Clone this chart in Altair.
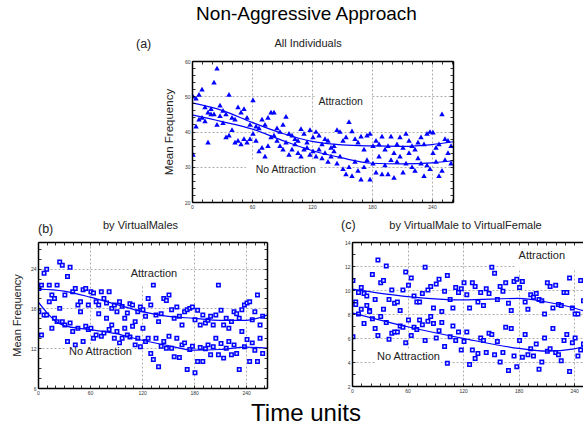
import altair as alt
import pandas as pd

FONT = "Liberation Sans"
BLUE = "#0000ff"
TXT = "#222222"

# time units at which the mean frequencies are plotted (every 3 units)
time_steps = list(range(1, 261, 3))

# ---------------- (a) All Individuals ----------------
a_attr = [50, 49.5, 50.5, 52, 47, 45.5, 46.5, 54, 58, 47.5,
          46, 45, 50.5, 44, 43.5, 47, 45.5, 46.5, 44, 42,
          49, 41.5, 41, 43.5, 42, 44, 45.5, 45.5, 41, 40,
          42, 44.3, 39.5, 39, 38, 37.5, 40.8, 39.5, 37, 40.5,
          38.5, 40, 39, 36.5, 38, 37.5, 35.5, 36, 40.5, 40,
          37.5, 38.5, 42.8, 40.2, 38, 37, 38.7, 35, 39, 39.5,
          36, 37.5, 36.5, 38.7, 35, 36, 38.7, 34, 36.5, 38.5,
          35.5, 39.5, 37.5, 36, 35, 37, 38.5, 36.5, 39.5, 40,
          39.8, 35.5, 36.5, 45, 38, 37.5, 36]
a_noattr = [33.5, 41.5, 43.5, 44, 43, 37, 45, 45, 42, 44.5,
            42.5, 38.5, 39, 40.5, 37, 37.5, 36.5, 38, 37, 38,
            39.5, 37.5, 34.5, 35.5, 33, 36, 38.5, 39, 37.5, 36,
            35, 37, 33.5, 35, 36.5, 34, 33, 35, 35.5, 33.5,
            34.5, 33, 35, 32.5, 34, 31.5, 33, 34.5, 31, 33,
            29.5, 28, 30, 27.5, 31.5, 29, 26.5, 30, 32, 26.5,
            31, 28.5, 33, 28, 30.5, 28, 32, 27, 31.5, 33,
            28.5, 31, 34, 30, 29, 32.5, 31, 27.5, 30.5, 29.5,
            34, 31.5, 27.5, 29, 32, 34, 31]
a_fit_t = [0, 30, 60, 90, 120, 150, 180, 210, 240, 261]
a_fit_attr = [48.1, 46.0, 42.6, 39.5, 37.2, 36.2, 35.9, 35.8, 36.3, 37.1]
a_fit_noattr = [44.7, 42.8, 40.7, 37.5, 34.6, 32.5, 31.0, 30.8, 31.1, 31.7]

# ---------------- (b) by VirtualMales ----------------
b_attr = [21, 21.5, 23.3, 23.9, 21.5, 20, 19.5, 21.5, 25, 24.5,
          20, 22.8, 24.2, 20.5, 21, 18.5, 19, 20.8, 21, 18.5,
          20.5, 20.3, 19, 18.5, 20.5, 19.5, 18.8, 20.5, 18, 18.5,
          17.5, 19, 18.3, 16.5, 17.3, 18.7, 18.5, 16, 17.5, 18.2,
          17.8, 16.8, 19.5, 18.5, 21.5, 17, 16, 17.2, 19.5, 19.2,
          20, 17.8, 16.5, 18.2, 16.8, 15.5, 17.5, 17.8, 18, 18.2,
          16.3, 17.7, 15.5, 17, 15.8, 16.2, 16.8, 15.5, 17, 21.5,
          17.7, 15.5, 16.5, 15, 16, 17.5, 17.2, 16.5, 17.8, 18.5,
          18.8, 19, 16.3, 17.5, 20, 15.5, 16.8]
b_noattr = [17.5, 14, 17, 17, 19, 15, 16.5, 16, 18, 16,
            15.5, 13, 15.8, 14.5, 12.5, 15, 17.5, 13, 15.3, 14.8,
            15, 13.5, 14, 17.2, 13.8, 14.3, 16.5, 14.8, 15.5, 13.5,
            14.5, 12.8, 13.5, 15, 14, 13.7, 15.3, 12.5, 13.5, 12.2,
            15, 13, 13.5, 11.2, 10.3, 13.5, 9.2, 12.3, 13, 12,
            13.8, 12, 10.7, 13.5, 10.6, 12.5, 12.8, 8.8, 11.8, 12.3,
            8.3, 10, 12.1, 10, 11.9, 12.5, 11, 12.2, 13.5, 11,
            12.7, 10.5, 12, 13, 11, 12.5, 11.2, 8.8, 14.5, 12.2,
            13.3, 10, 12.8, 11.7, 10, 13.5, 11.2]
b_fit_t_attr = [0, 30, 60, 90, 120, 150, 180, 210, 240, 264]
b_fit_attr = [20.9, 20.6, 19.7, 18.6, 17.5, 16.8, 16.5, 16.2, 16.2, 17.0]
b_fit_t_noattr = [0, 10, 20, 30, 60, 90, 120, 150, 180, 210, 240, 264]
b_fit_noattr = [19.0, 17.4, 16.1, 15.4, 14.8, 14.2, 13.2, 12.4, 11.7, 11.8, 12.15, 12.0]

# ---------------- (c) by VirtualMale to VirtualFemale ----------------
c_attr = [10.8, 9, 9.8, 10.2, 9.7, 9.5, 8.3, 11.3, 9.2, 12.5,
          10.6, 10.8, 12, 9.2, 10, 8.9, 9, 8.3, 10, 11.5,
          10.4, 11, 9.5, 9, 9, 9.7, 11.9, 10, 10.3, 8.5,
          10.5, 10.9, 8.2, 9.9, 11.2, 9.2, 8.5, 10.2, 9.8, 10.1,
          10.6, 9.6, 8.5, 10.6, 10.3, 9, 9.8, 8.7, 10.1, 9.7,
          11.9, 11.4, 9.2, 10.3, 9.9, 10.6, 8.9, 8.3, 10.7, 10.9,
          10.2, 10.7, 9, 8.4, 9.6, 9.4, 9.7, 9.2, 9.1, 8,
          10.6, 10.3, 8.5, 10.4, 8.8, 8.7, 9.8, 9.8, 11, 8.5,
          8, 8, 10.8, 9.1, 9, 7.5, 8.6]
c_noattr = [6.1, 8.8, 8, 8.4, 7.2, 8.7, 8.2, 7.6, 6.8, 6.2,
            7.8, 8.4, 7.3, 5.9, 6.4, 6.5, 6.5, 7, 6.9, 5.6,
            7.5, 6.2, 6.9, 6.7, 7.5, 7.1, 5.8, 7.4, 7.8, 7.2,
            6, 6.6, 7.3, 5.3, 3.9, 6.1, 7, 5.8, 6.5, 5,
            5.7, 6.5, 3.8, 5, 4.3, 4.7, 6, 5.8, 4.8, 6.4,
            6.3, 4.6, 5.7, 4, 4.8, 6.9, 3.3, 6.8, 4.5, 3.6,
            5.8, 4.4, 6.3, 4.6, 5.1, 4.5, 5.5, 3.4, 4, 6,
            4.9, 5.1, 6.8, 4.8, 4.6, 4.1, 5.8, 6.3, 3.2, 5.6,
            6, 4.5, 5, 5.5, 4.9, 5.3, 5.8]
c_fit_t = [0, 60, 120, 180, 210, 240, 260]
c_fit_attr = [10.07, 9.45, 9.17, 9.3, 9.0, 8.5, 8.0]
c_fit_noattr = [8.1, 6.94, 5.97, 5.13, 4.9, 5.1, 5.55]

X_MAJOR = [0, 60, 120, 180, 240]


def ax(orient, **kw):
    base = dict(orient=orient, title=None, labels=False, ticks=False,
                domain=False, grid=False)
    base.update(kw)
    return alt.Axis(**base)


def make_panel(att, no, fit_t_att, fit_att, fit_t_no, fit_no, xdom, ydom,
               ymajor, yminor, w, h, square, lab_t, lab_v, lab_size,
               box_t1, box_t2, box_v1, box_v2, title, title_dx, title_dy,
               letter, letter_dx, letter_dy, ytitle, ytitle_size, ytitle_pad,
               right_frame=True, xlabel=None):
    pts_a = pd.DataFrame({"t": time_steps, "v": att})
    pts_n = pd.DataFrame({"t": time_steps, "v": no})
    fit = pd.DataFrame({"t": fit_t_att + fit_t_no, "v": fit_att + fit_no,
                        "s": ["Attraction"] * len(fit_t_att) + ["No Attraction"] * len(fit_t_no)})
    labs = pd.DataFrame({"t": lab_t, "v": lab_v, "label": ["Attraction", "No Attraction"]})
    boxes = pd.DataFrame({"t1": box_t1, "t2": box_t2, "v1": box_v1, "v2": box_v2})

    xs = alt.Scale(domain=xdom, nice=False, zero=False)
    ys = alt.Scale(domain=ydom, nice=False, zero=False)
    xminor = list(range(0, int(xdom[1]) + 1, 10))

    lab_common = dict(labelFontSize=5, labelFont=FONT, labelColor="#333333",
                      labelPadding=2, labelFlush=False, labelOverlap=False,
                      format="d", grid=True, gridColor="#9a9a9a",
                      gridDash=[2, 2], gridWidth=0.8, zindex=0, labels=True)
    x_main = ax("bottom", values=X_MAJOR, **lab_common)
    y_main = ax("left", values=ymajor, **lab_common)
    if ytitle:
        y_main = ax("left", values=ymajor, title=ytitle, titleFont=FONT,
                    titleFontSize=ytitle_size, titleFontWeight="normal",
                    titleColor=TXT, titlePadding=ytitle_pad, **lab_common)
    tick_kw = dict(ticks=True, tickSize=3, tickColor="black", tickWidth=0.8,
                   offset=-3, zindex=1)
    frame_kw = dict(domain=True, domainColor="black", domainWidth=1.5, zindex=1)

    box_layer = alt.Chart(boxes).mark_rect(fill="white", clip=True).encode(
        x=alt.X("t1:Q", scale=xs, axis=x_main), x2="t2:Q",
        y=alt.Y("v1:Q", scale=ys, axis=y_main), y2="v2:Q")

    if square:
        pmark = dict(shape="square", filled=True, fill="#e6e6ff", stroke=BLUE,
                     strokeWidth=1.5, size=12, opacity=1, clip=True)
    else:
        pmark = dict(shape="triangle-up", filled=True, color=BLUE, size=30,
                     opacity=1, clip=True)

    pts1 = alt.Chart(pts_a).mark_point(**pmark).encode(
        x=alt.X("t:Q", scale=xs, axis=ax("bottom", values=xminor, **tick_kw)),
        y=alt.Y("v:Q", scale=ys, axis=ax("left", values=yminor, **tick_kw)))
    pts2 = alt.Chart(pts_n).mark_point(**pmark).encode(
        x=alt.X("t:Q", scale=xs, axis=ax("top", **frame_kw)),
        y=alt.Y("v:Q", scale=ys, axis=ax("right", **frame_kw) if right_frame else None))
    curves = alt.Chart(fit).mark_line(color=BLUE, strokeWidth=1.2,
                                      interpolate="monotone", clip=True).encode(
        x=alt.X("t:Q", scale=xs, axis=ax("bottom", **frame_kw)),
        y=alt.Y("v:Q", scale=ys, axis=ax("left", **frame_kw)),
        detail="s:N")
    texts = alt.Chart(labs).mark_text(font=FONT, fontSize=lab_size, color=TXT).encode(
        x=alt.X("t:Q", scale=xs, axis=ax("top", values=xminor, **tick_kw)),
        y=alt.Y("v:Q", scale=ys,
                axis=ax("right", values=yminor, **tick_kw) if right_frame else None),
        text="label:N")
    letter_layer = alt.Chart(pd.DataFrame({"k": [letter]})).mark_text(
        font=FONT, fontSize=12.5, color=TXT, align="left", baseline="middle").encode(
        x=alt.value(letter_dx), y=alt.value(letter_dy), text="k:N")
    title_layer = alt.Chart(pd.DataFrame({"k": [title]})).mark_text(
        font=FONT, fontSize=11, color=TXT, align="center", baseline="middle").encode(
        x=alt.value(w / 2 + title_dx), y=alt.value(title_dy), text="k:N")
    layers = [box_layer, pts1, pts2, curves, texts, letter_layer, title_layer]
    if xlabel:
        text, dx, dy, size = xlabel
        layers.append(alt.Chart(pd.DataFrame({"k": [text]})).mark_text(
            font=FONT, fontSize=size, color="black", align="center",
            baseline="alphabetic").encode(
            x=alt.value(dx), y=alt.value(dy), text="k:N"))

    return alt.layer(*layers).resolve_axis(
        x="independent", y="independent").properties(width=w, height=h)


panel_a = make_panel(a_attr, a_noattr, a_fit_t, a_fit_attr, a_fit_t, a_fit_noattr,
                     [0, 261], [20, 60], [20, 30, 40, 50, 60], list(range(20, 61, 2)),
                     261, 141, False, [148.7, 93.7], [48.5, 29.2], 10.5,
                     [123, 54], [180, 127], [47, 20], [60, 32],
                     "All Individuals", -14.5, -17, "(a)", -56, -17,
                     "Mean Frequency", 11.5, 9.5)
panel_b = make_panel(b_attr, b_noattr, b_fit_t_attr, b_fit_attr, b_fit_t_noattr, b_fit_noattr,
                     [0, 264], [6, 28], [6, 12, 18, 24], [6 + 1.5 * i for i in range(15)],
                     229, 146, True, [133.6, 72], [23.15, 11.4], 11,
                     [105, 33], [166, 108], [21.6, 6], [28, 12.6],
                     "by VirtualMales", -12, -16, "(b)", 0, -13,
                     "Mean Frequency", 11, 7.5,
                     xlabel=("Time units", 268, 179, 24))
panel_c = make_panel(c_attr, c_noattr, c_fit_t, c_fit_attr, c_fit_t, c_fit_noattr,
                     [0, 249.5], [2, 14], [2, 4, 6, 8, 10, 12, 14], list(range(2, 15)),
                     231, 144, True, [205, 61], [12.85, 4.38], 11,
                     [177, 26], [249.5, 96], [11.8, 2], [14, 5.1],
                     "by VirtualMale to VirtualFemale", -2, -16, "(c)", -11, -17,
                     None, 11, 8, right_frame=False)

spacer = alt.Chart(pd.DataFrame({"t": [0]})).mark_point(opacity=0).encode(
    x=alt.X("t:Q", axis=None), y=alt.Y("t:Q", axis=None)).properties(width=154, height=141)

row1 = alt.hconcat(spacer, panel_a, spacing=0, bounds="flush")
row2 = alt.hconcat(panel_b, panel_c, spacing=85, bounds="flush")

chart = alt.vconcat(row1, row2, spacing=10).properties(
    padding={"left": 11, "top": 5, "right": 0, "bottom": 0},
    title=alt.TitleParams("Non-Aggressive Approach", font=FONT, fontSize=19,
                          fontWeight="normal", color="black", anchor="middle",
                          dx=9, offset=14)
).configure(background="white").configure_view(stroke="transparent", strokeWidth=0)

chart.save("out.html", embed_options={"renderer": "svg", "actions": False})
